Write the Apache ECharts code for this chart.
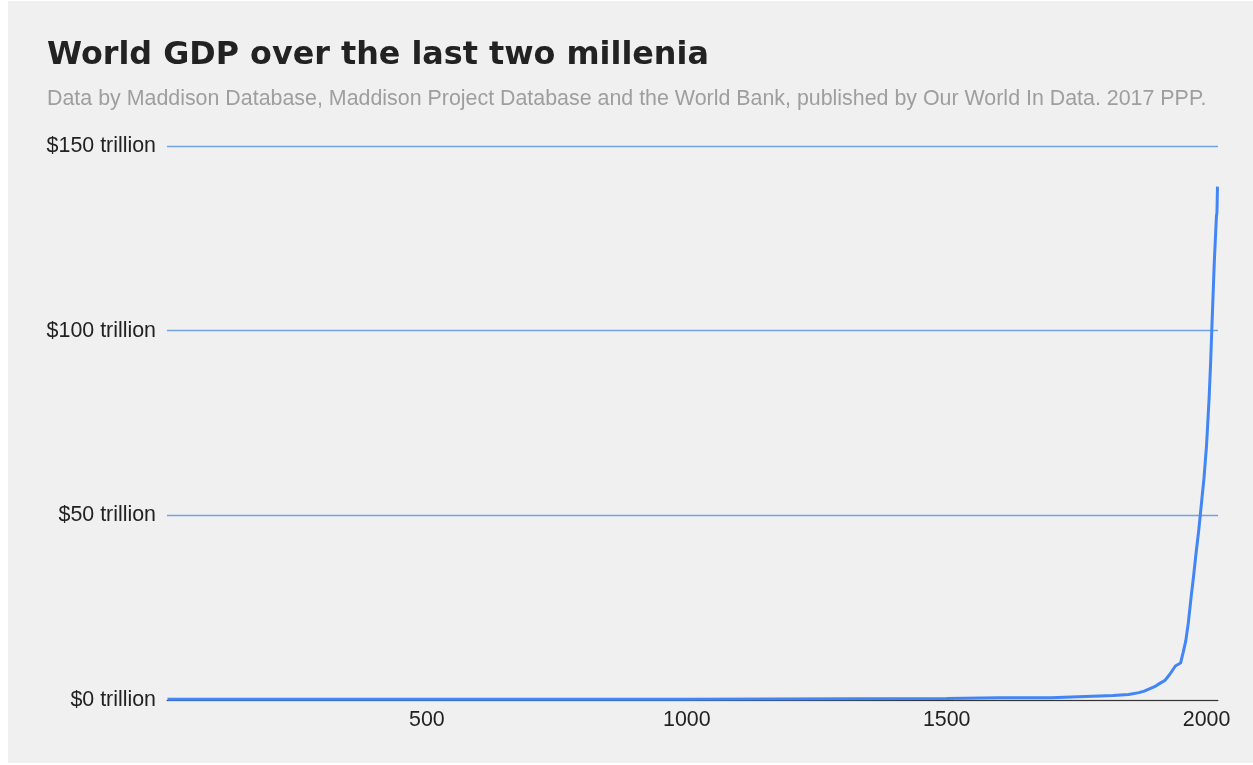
<!DOCTYPE html>
<html>
<head>
<meta charset="utf-8">
<script src="https://cdn.jsdelivr.net/npm/echarts@6/dist/echarts.min.js"></script>
<style>
html,body{margin:0;padding:0;background:#ffffff;width:1253px;height:765px;overflow:hidden;}
#chart{position:absolute;left:8px;top:1px;width:1245px;height:762px;}
</style>
</head>
<body>
<div id="chart"></div>
<script>
// Year and world GDP (trillions of 2017 PPP international $)
const years = [1, 1000, 1500, 1600, 1700, 1820, 1850, 1870, 1880, 1890, 1900, 1910, 1913, 1920, 1929, 1940, 1950, 1955, 1960, 1965, 1970, 1975, 1980, 1985, 1990, 1995, 2000, 2005, 2008, 2010, 2015, 2018, 2019, 2020, 2021];
const gdp = [0.18, 0.21, 0.43, 0.58, 0.64, 1.2, 1.5, 2.0, 2.4, 3.0, 3.6, 4.5, 4.9, 5.3, 6.9, 9.2, 10.0, 12.9, 16.0, 21.0, 27.5, 33.5, 40.0, 46.0, 53.0, 60.0, 69.0, 82.0, 92.0, 100.0, 119.0, 128.0, 131.0, 132.0, 139.0];
const yTicks = [0, 50, 100, 150];
const xTicks = [500, 1000, 1500, 2000];
const titleText = 'World GDP over the last two millenia';
const subtitleText = 'Data by Maddison Database, Maddison Project Database and the World Bank, published by Our World In Data. 2017 PPP.';

const chart = echarts.init(document.getElementById('chart'), null, {renderer: 'canvas'});
chart.setOption({
  backgroundColor: '#f0f0f0',
  animation: false,
  title: [
    {text: titleText, left: 39, top: 38.5, padding: 0,
     textStyle: {fontFamily: 'DejaVu Sans', fontWeight: 'bold', fontSize: 31.8, color: '#222222'}},
    {text: subtitleText, left: 39, top: 88, padding: 0,
     textStyle: {fontFamily: 'Liberation Sans', fontWeight: 'normal', fontSize: 21.4, color: '#9e9e9e'}}
  ],
  grid: {left: 159, right: 35, top: 145, bottom: 63},
  xAxis: {
    type: 'value', min: 0, max: 2022, interval: 500,
    axisLine: {show: true, lineStyle: {color: '#333333', width: 1}},
    axisTick: {show: false},
    splitLine: {show: false},
    axisLabel: {
      showMinLabel: false, showMaxLabel: false, margin: 10,
      fontFamily: 'Liberation Sans', fontSize: 21.4, color: '#222222',
      formatter: v => xTicks.includes(v) ? String(v) : ''
    }
  },
  yAxis: {
    type: 'value', min: 0, max: 150, interval: 50,
    axisLine: {show: false}, axisTick: {show: false},
    splitLine: {show: true, lineStyle: {color: '#6fa3e6', width: 1.3}},
    axisLabel: {
      margin: 11, fontFamily: 'Liberation Sans', fontSize: 21.4, color: '#222222',
      formatter: v => yTicks.includes(v) ? '$' + v + ' trillion' : ''
    }
  },
  series: [{
    type: 'line',
    data: years.map((y, i) => [y, gdp[i]]),
    showSymbol: false,
    lineStyle: {color: '#4285f4', width: 3},
    itemStyle: {color: '#4285f4'}
  }]
});
</script>
</body>
</html>
